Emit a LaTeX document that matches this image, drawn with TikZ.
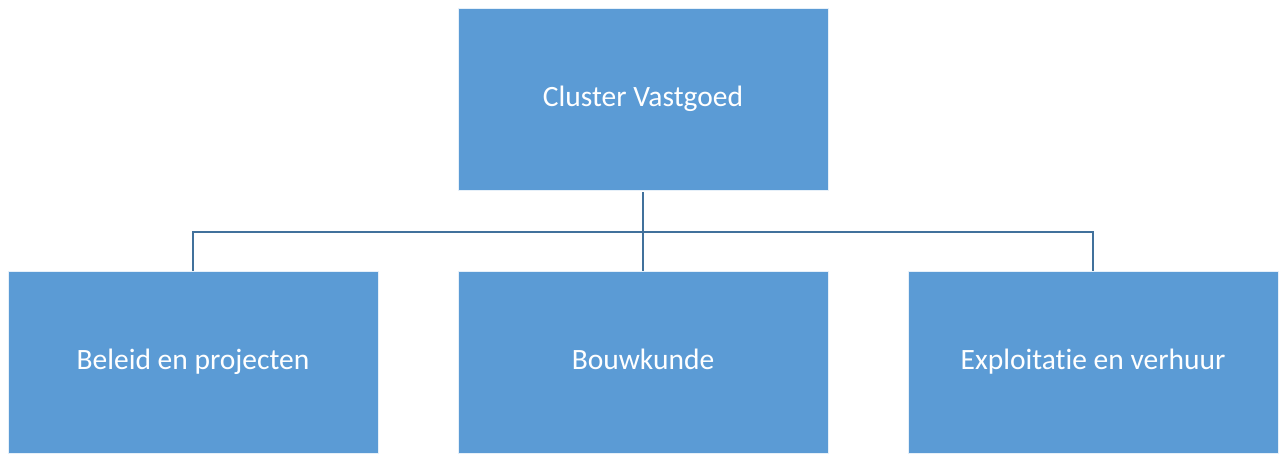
\documentclass[tikz,border=0pt]{standalone}
\usepackage{fontspec}
\setmainfont{Carlito}[Ligatures=NoCommon]
\definecolor{boxblue}{HTML}{5B9BD5}
\definecolor{lineblue}{HTML}{41719C}
\begin{document}
\begin{tikzpicture}[x=1pt,y=-1pt,
  orgbox/.style={fill=boxblue,draw=white!85!boxblue,line width=1pt,minimum width=370pt,minimum height=182pt,inner sep=0pt,text=white,text height=20pt,text depth=6pt,font=\fontsize{29.5}{34}\selectfont},
  conn/.style={draw=lineblue,line width=2.5pt}]
\useasboundingbox (0,0) rectangle (1280,453);
\node[orgbox] (top) at (643,99.5) {Cluster Vastgoed};
\node[orgbox] (left) at (193,362.5) {Beleid en projecten};
\node[orgbox] (mid) at (643,362.5) {Bouwkunde};
\node[orgbox] (right) at (1093,362.5) {Exploitatie en verhuur};
\coordinate (bus) at (643,232);
\draw[conn] (top.south) ++(0,1) -- (mid.north);
\draw[conn] (left.north) -- (left.north |- bus) -- (right.north |- bus) -- (right.north);
\end{tikzpicture}
\end{document}
